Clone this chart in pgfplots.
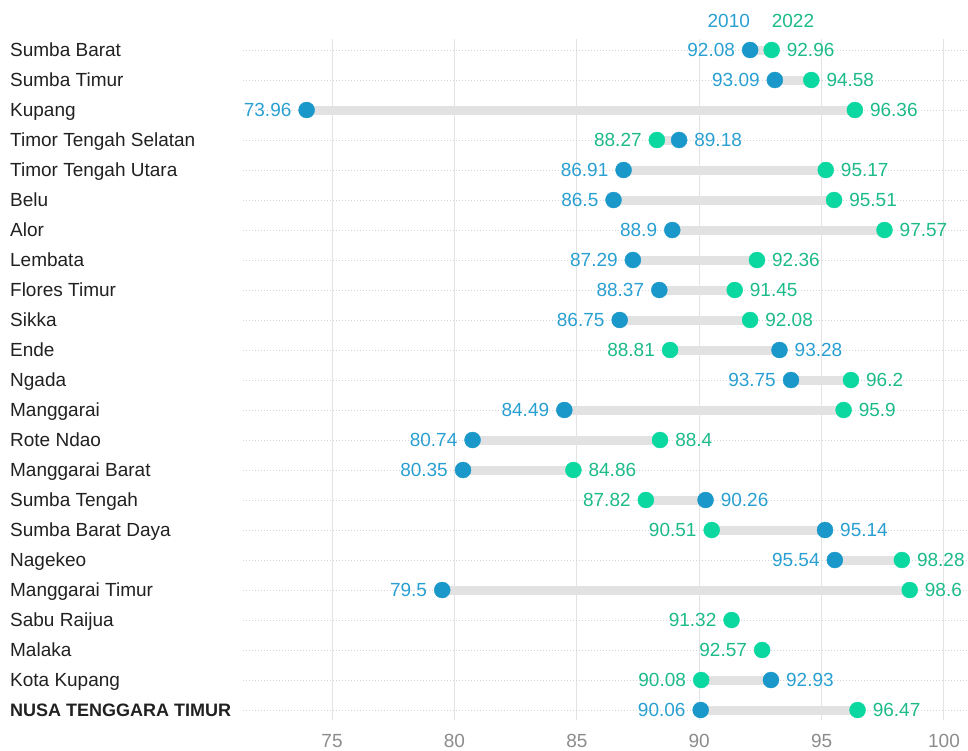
\documentclass[border=0pt]{standalone}
\usepackage{pgfplots}
\usepackage{pgfplotstable}
\pgfplotsset{compat=1.18}
\usepackage{fontspec}
\setmainfont{Liberation Sans}
\definecolor{bluedot}{HTML}{1A98CA}
\definecolor{bluetxt}{HTML}{2AA0D2}
\definecolor{greendot}{HTML}{0AD8A0}
\definecolor{greentxt}{HTML}{1DBA8A}
\definecolor{bargray}{HTML}{E2E2E2}
\definecolor{gridgray}{HTML}{E3E3E3}
\definecolor{dotgray}{HTML}{D4D4D4}
\definecolor{ticktxt}{HTML}{8C8C8C}
\definecolor{nametxt}{HTML}{212121}
\newcommand{\lbl}{\fontsize{19bp}{22bp}\selectfont}

% y = row, a = 2010, b = 2022, lo/d = bar start and length,
% sa/sb = 1: label left of dot, -1: label right of dot
\pgfplotstableread{
y a b lo d sa sb
0 92.08 92.96 92.08 0.88 1 -1
1 93.09 94.58 93.09 1.49 1 -1
2 73.96 96.36 73.96 22.40 1 -1
3 89.18 88.27 88.27 0.91 -1 1
4 86.91 95.17 86.91 8.26 1 -1
5 86.5 95.51 86.5 9.01 1 -1
6 88.9 97.57 88.9 8.67 1 -1
7 87.29 92.36 87.29 5.07 1 -1
8 88.37 91.45 88.37 3.08 1 -1
9 86.75 92.08 86.75 5.33 1 -1
10 93.28 88.81 88.81 4.47 -1 1
11 93.75 96.2 93.75 2.45 1 -1
12 84.49 95.9 84.49 11.41 1 -1
13 80.74 88.4 80.74 7.66 1 -1
14 80.35 84.86 80.35 4.51 1 -1
15 90.26 87.82 87.82 2.44 -1 1
16 95.14 90.51 90.51 4.63 -1 1
17 95.54 98.28 95.54 2.74 1 -1
18 79.5 98.6 79.5 19.10 1 -1
19 nan 91.32 nan nan 1 1
20 nan 92.57 nan nan 1 1
21 92.93 90.08 90.08 2.85 -1 1
22 90.06 96.47 90.06 6.41 1 -1
}\data

\begin{document}
\begin{tikzpicture}
\begin{axis}[
  scale only axis, width=725bp, height=681bp,
  xmin=71.36, xmax=100.98, ymin=-0.367, ymax=22.333,
  y dir=reverse,
  axis line style={draw=none},
  major tick length=0pt,
  /pgf/number format/assume math mode=true,
  xtick={75,80,...,100},
  ytick={0,...,22},
  yticklabels={Sumba Barat, Sumba Timur, Kupang, Timor Tengah Selatan, Timor Tengah Utara, Belu, Alor, Lembata, Flores Timur, Sikka, Ende, Ngada, Manggarai, Rote Ndao, Manggarai Barat, Sumba Tengah, Sumba Barat Daya, Nagekeo, Manggarai Timur, Sabu Raijua, Malaka, Kota Kupang, {\fontsize{18bp}{22bp}\selectfont\bfseries NUSA TENGGARA TIMUR}},
  grid=major,
  x grid style={gridgray, line width=1bp},
  y grid style={dotgray, line width=1bp, dash pattern=on 1.5bp off 1.5bp},
  xticklabel style={text=ticktxt, anchor=base, yshift=-27bp, font=\lbl},
  yticklabel style={text=nametxt, anchor=base west, inner sep=0pt, xshift=-233bp, yshift=-6.7bp, font=\lbl},
  clip=false,
]
% connecting bars
\addplot[draw=none, mark=none, forget plot,
  error bars/.cd, x dir=plus, x explicit, error mark=none,
  error bar style={draw=bargray, line width=9bp}]
  table[x=lo, y=y, x error=d] {\data};
% 2010
\addplot[only marks, mark=*, mark size=8bp, color=bluedot,
  mark options={draw=bluedot, fill=bluedot},
  point meta=explicit symbolic,
  visualization depends on={\thisrow{sa} \as \side},
  nodes near coords,
  nodes near coords style={anchor=\ifdim\side pt>0pt east\else west\fi, inner xsep=15bp, inner ysep=0pt, text=bluetxt, font=\lbl}]
  table[x=a, y=y, meta=a] {\data};
% 2022
\addplot[only marks, mark=*, mark size=8bp, color=greendot,
  mark options={draw=greendot, fill=greendot},
  point meta=explicit symbolic,
  visualization depends on={\thisrow{sb} \as \side},
  nodes near coords,
  nodes near coords style={anchor=\ifdim\side pt>0pt east\else west\fi, inner xsep=15bp, inner ysep=0pt, text=greentxt, font=\lbl}]
  table[x=b, y=y, meta=b] {\data};
% top legend
\draw[gray!60, line width=1bp] (axis cs:92.08,0) ++(0,12bp) -- ++(0,8bp);
\draw[gray!60, line width=1bp] (axis cs:92.96,0) ++(0,12bp) -- ++(0,8bp);
\node[anchor=base east, inner sep=0pt, yshift=23bp, text=bluetxt, font=\lbl] at (axis cs:92.08,0) {2010};
\node[anchor=base west, inner sep=0pt, yshift=23bp, text=greentxt, font=\lbl] at (axis cs:92.96,0) {2022};
\end{axis}
\pgfresetboundingbox
\path ([xshift=-243bp,yshift=-31bp]current axis.south west) rectangle ([yshift=39bp]current axis.north east);
\end{tikzpicture}
\end{document}
